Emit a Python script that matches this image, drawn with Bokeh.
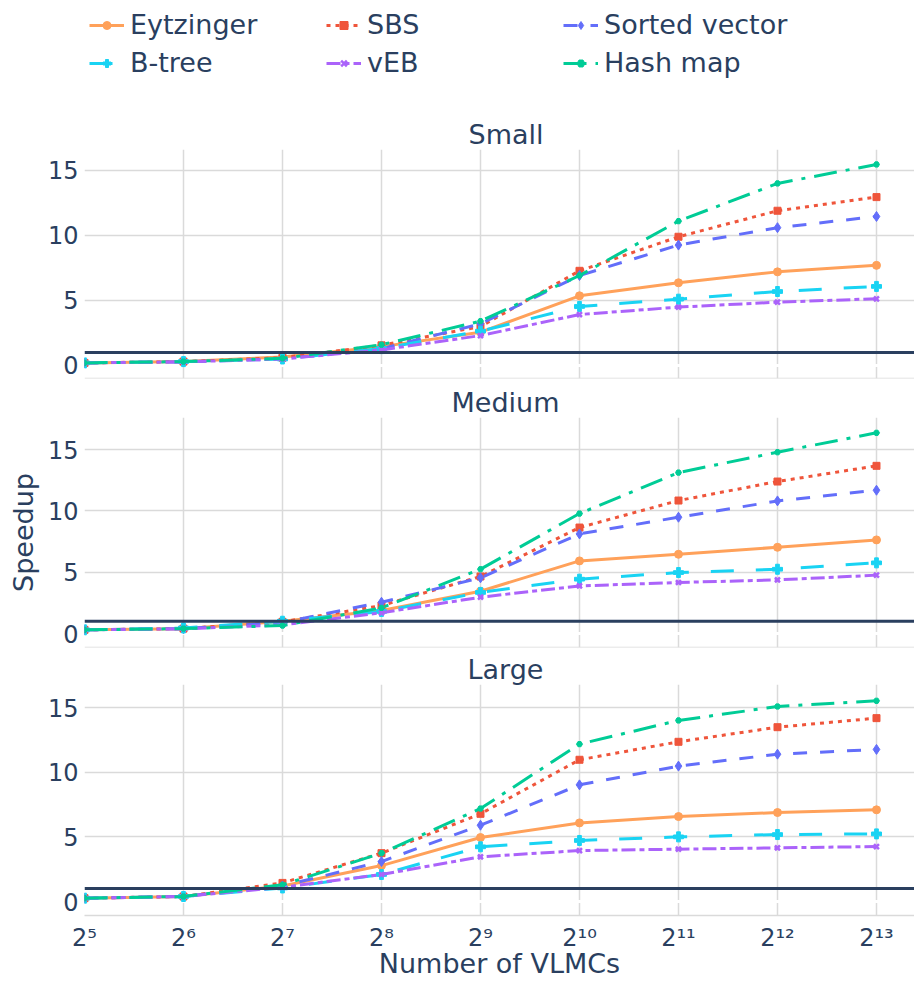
from bokeh.plotting import figure
from bokeh.layouts import column
from bokeh.models import Range1d, FixedTicker, Span, Legend, LegendItem, ColumnDataSource
from bokeh.embed import file_html
from bokeh.resources import INLINE

# ---------------- data ----------------
vlmc_counts = [32, 64, 128, 256, 512, 1024, 2048, 4096, 8192]
x_tick_labels = ["2⁵", "2⁶", "2⁷", "2⁸", "2⁹", "2¹⁰", "2¹¹", "2¹²", "2¹³"]
y_ticks = [0, 5, 10, 15]
panel_titles = ["Small", "Medium", "Large"]
series_names = ["Eytzinger", "SBS", "Sorted vector", "B-tree", "vEB", "Hash map"]
baseline_speedup = 1.0

small_eytzinger = [0.2, 0.3, 0.65, 1.45, 2.56, 5.36, 6.36, 7.2, 7.7]
small_sbs = [0.2, 0.3, 0.6, 1.55, 3.0, 7.28, 9.9, 11.9, 12.95]
small_sorted = [0.2, 0.28, 0.5, 1.3, 3.2, 6.92, 9.26, 10.6, 11.46]
small_btree = [0.2, 0.3, 0.5, 1.3, 2.64, 4.54, 5.1, 5.69, 6.08]
small_veb = [0.2, 0.28, 0.5, 1.2, 2.3, 3.92, 4.49, 4.87, 5.13]
small_hash = [0.2, 0.3, 0.55, 1.6, 3.41, 6.92, 11.1, 14.0, 15.46]

medium_eytzinger = [0.3, 0.38, 1.0, 1.87, 3.45, 5.92, 6.46, 7.03, 7.63]
medium_sbs = [0.3, 0.4, 0.95, 2.28, 4.65, 8.64, 10.84, 12.39, 13.67]
medium_sorted = [0.3, 0.4, 0.9, 2.55, 4.54, 8.12, 9.48, 10.81, 11.68]
medium_btree = [0.3, 0.45, 1.0, 1.8, 3.35, 4.43, 4.97, 5.24, 5.76]
medium_veb = [0.3, 0.38, 0.7, 1.69, 2.96, 3.88, 4.16, 4.37, 4.76]
medium_hash = [0.3, 0.4, 0.65, 2.09, 5.24, 9.78, 13.12, 14.78, 16.36]

large_eytzinger = [0.26, 0.39, 1.2, 2.78, 4.95, 6.08, 6.57, 6.88, 7.09]
large_sbs = [0.26, 0.39, 1.44, 3.74, 6.78, 10.96, 12.35, 13.48, 14.18]
large_sorted = [0.26, 0.39, 1.2, 3.09, 5.9, 9.02, 10.47, 11.39, 11.76]
large_btree = [0.26, 0.39, 1.05, 2.09, 4.23, 4.72, 5.0, 5.18, 5.23]
large_veb = [0.26, 0.39, 1.1, 2.09, 3.46, 3.94, 4.05, 4.15, 4.25]
large_hash = [0.26, 0.39, 1.29, 3.74, 7.19, 12.17, 14.0, 15.08, 15.52]

panel_data = [
    [small_eytzinger, small_sbs, small_sorted, small_btree, small_veb, small_hash],
    [medium_eytzinger, medium_sbs, medium_sorted, medium_btree, medium_veb, medium_hash],
    [large_eytzinger, large_sbs, large_sorted, large_btree, large_veb, large_hash],
]

# ---------------- style ----------------
FONT = "DejaVu Sans"
TEXT = "#2a3f5f"
GRID = "#dadada"
X_MIN, X_MAX = 32, 2 ** 13.384

styles = {
    "Eytzinger": dict(color="#FFA15A", dash="solid", marker="circle", size=8, lw=0),
    "SBS": dict(color="#EF553B", dash="4 5", marker="square", size=7, lw=0),
    "Sorted vector": dict(color="#636EFA", dash="14 13", marker="diamond", size=10, lw=0),
    "B-tree": dict(color="#19D3F3", dash="23 22", marker="plus", size=10, lw=0),
    "vEB": dict(color="#AB63FA", dash="14 4 5 4", marker="x", size=7, lw=2.5),
    "Hash map": dict(color="#00CC96", dash="23 9 4 9", marker="hex", size=6, lw=0),
}

panel_yranges = [(-1.0, 16.61), (-1.14, 17.61), (-1.08, 16.78)]
panel_geom = [  # (height, min_border_top, min_border_bottom)
    (281, 49, 3),
    (269, 36, 3),
    (331, 34, 66),
]
title_offsets = [384, 367, 383]


def add_series(p, name, xs, ys):
    st = styles[name]
    src = ColumnDataSource(dict(x=xs, y=ys))
    rl = p.line("x", "y", source=src, line_color=st["color"], line_width=3,
                line_dash=st["dash"])
    if st["marker"] == "x":
        rs = p.scatter("x", "y", source=src, marker="x", size=st["size"],
                       line_color=st["color"], line_width=st["lw"])
    else:
        rs = p.scatter("x", "y", source=src, marker=st["marker"], size=st["size"],
                       fill_color=st["color"], line_color=st["color"], line_width=1)
    return rl, rs


def make_panel(i):
    height, btop, bbot = panel_geom[i]
    p = figure(width=914, height=height, x_axis_type="log",
               x_range=Range1d(X_MIN, X_MAX), y_range=Range1d(*panel_yranges[i]),
               output_backend="svg", toolbar_location=None,
               min_border_left=84, min_border_right=0,
               min_border_top=btop, min_border_bottom=bbot,
               title=panel_titles[i])
    p.title.text_font = FONT
    p.title.text_font_size = "27px"
    p.title.text_font_style = "normal"
    p.title.text_color = TEXT
    p.title.align = "left"
    p.title.standoff = 0
    p.title.offset = title_offsets[i]
    p.outline_line_color = None
    p.background_fill_color = "white"
    p.border_fill_color = "white"

    xa = p.xaxis[0]
    xa.ticker = FixedTicker(ticks=vlmc_counts)
    xa.major_label_overrides = {v: lab for v, lab in zip(vlmc_counts, x_tick_labels)}
    xa.axis_line_color = GRID
    xa.axis_line_width = 1.5
    xa.major_tick_line_color = None
    xa.minor_tick_line_color = None
    xa.major_tick_out = 0
    xa.major_tick_in = 0
    xa.major_label_text_font = FONT
    xa.major_label_text_color = TEXT
    if i == 2:
        xa.major_label_text_font_size = "24px"
        xa.major_label_standoff = 8
        xa.axis_label = "Number of VLMCs"
        xa.axis_label_text_font = FONT
        xa.axis_label_text_font_size = "27px"
        xa.axis_label_text_font_style = "normal"
        xa.axis_label_text_color = TEXT
        xa.axis_label_standoff = -7
    else:
        xa.visible = False
        edge = Span(location=panel_yranges[i][0], dimension="width", line_color=GRID,
                    line_width=1.5, level="underlay")
        p.add_layout(edge)

    ya = p.yaxis[0]
    ya.ticker = FixedTicker(ticks=y_ticks)
    ya.axis_line_color = None
    ya.major_tick_line_color = None
    ya.minor_tick_line_color = None
    ya.major_tick_out = 0
    ya.major_tick_in = 0
    ya.major_label_text_font = FONT
    ya.major_label_text_font_size = "24px"
    ya.major_label_text_color = TEXT
    ya.major_label_standoff = 6
    if i == 1:
        ya.axis_label = "Speedup"
        ya.axis_label_text_font = FONT
        ya.axis_label_text_font_size = "27px"
        ya.axis_label_text_font_style = "normal"
        ya.axis_label_text_color = TEXT
        ya.axis_label_standoff = 6

    p.xgrid.grid_line_color = GRID
    p.ygrid.grid_line_color = GRID
    p.xgrid.grid_line_width = 1.5
    p.ygrid.grid_line_width = 1.5

    zero = Span(location=0, dimension="width", line_color="white", line_width=3, level="underlay")
    p.add_layout(zero)

    for name, vals in zip(series_names, panel_data[i]):
        add_series(p, name, vlmc_counts, vals)

    base = Span(location=baseline_speedup, dimension="width", line_color=TEXT, line_width=3)
    p.add_layout(base)
    return p


# ---------------- legend strip (proxy renderers hold no drawable point) ----------------
leg_fig = figure(width=914, height=100, x_range=Range1d(0, 1), y_range=Range1d(0, 1),
                 output_backend="svg", toolbar_location=None, min_border=0,
                 x_axis_location=None, y_axis_location=None)
leg_fig.grid.visible = False
leg_fig.outline_line_color = None
leg_items = []
for name in series_names:
    rl, rs = add_series(leg_fig, name, [float("nan")], [float("nan")])
    leg_items.append(LegendItem(label=name, renderers=[rl, rs]))

legend = Legend(items=leg_items, location=(5, 22), orientation="horizontal", ncols=3,
                glyph_width=35, glyph_height=20, label_standoff=6, label_width=189,
                spacing=7, padding=0, margin=0,
                label_text_font=FONT, label_text_font_size="27px", label_text_color=TEXT,
                border_line_color=None, background_fill_alpha=0)
leg_fig.add_layout(legend)

panels = [make_panel(i) for i in range(3)]

layout = column(leg_fig, *panels, spacing=0)
open("out.html", "w").write(file_html(layout, INLINE))
